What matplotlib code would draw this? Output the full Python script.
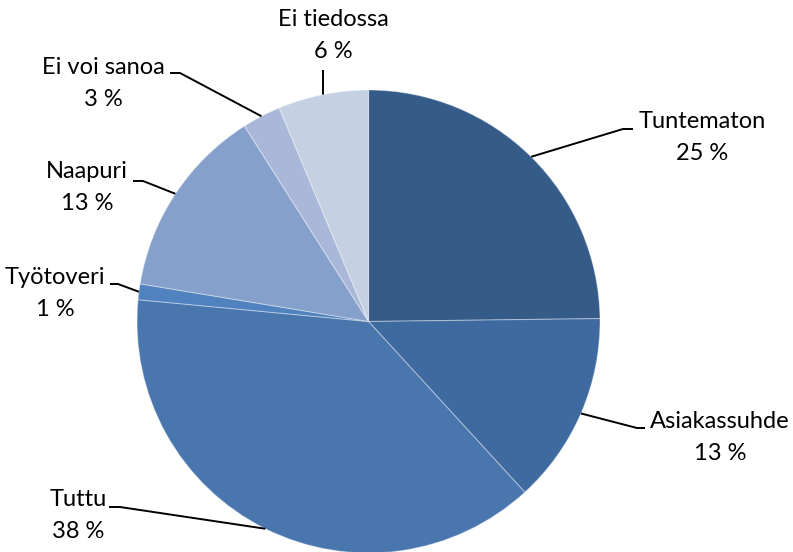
import numpy as np
import matplotlib
matplotlib.use("Agg")
import matplotlib.pyplot as plt

categories = ["Tuntematon", "Asiakassuhde", "Tuttu", "Työtoveri", "Naapuri", "Ei voi sanoa", "Ei tiedossa"]
values = [24.8, 13.4, 38.3, 1.1, 13.4, 2.7, 6.3]
colors = ["#355C89", "#3F6A9F", "#4A76AE", "#4F82BF", "#85A0CB", "#A9B8D8", "#C5D0E3"]

W, H = 793, 552
fig = plt.figure(figsize=(W / 100, H / 100), dpi=100)
ax = fig.add_axes([0, 0, 1, 1])

cx, cy, R = 368.5, H - 321.5, 231.5
wedges, _ = ax.pie(values, colors=colors, startangle=90, counterclock=False,
                   center=(cx, cy), radius=R, frame=True,
                   wedgeprops=dict(edgecolor=(1, 1, 1, 0.35), linewidth=0.8))
ax.set_xlim(0, W)
ax.set_ylim(0, H)
ax.set_aspect("equal")
ax.axis("off")

# label layout (image pixel coords): text center x, first line y, elbow point, elbow end (near text)
layout = {
    "Tuntematon":   dict(tx=702, ty=121, elbow=(623, 129), end=(633, 129)),
    "Asiakassuhde": dict(tx=720, ty=422, elbow=(637, 428), end=(645, 428)),
    "Tuttu":        dict(tx=78,  ty=500, elbow=(120, 507), end=(109, 507)),
    "Työtoveri":    dict(tx=55,  ty=278, elbow=(118, 284), end=(110, 284)),
    "Naapuri":      dict(tx=87,  ty=172, elbow=(143, 181), end=(133, 181)),
    "Ei voi sanoa": dict(tx=103, ty=68,  elbow=(180, 73),  end=(170, 73)),
    "Ei tiedossa":  dict(tx=333, ty=20,  elbow=(323, 70),  end=(323, 70)),
}

font = dict(family=["Lato", "DejaVu Sans"], fontsize=17, color="#000000")
for w, cat, v in zip(wedges, categories, values):
    L = layout[cat]
    mid = np.deg2rad((w.theta1 + w.theta2) / 2)
    px, py = cx + R * np.cos(mid), cy + R * np.sin(mid)
    ex, ey = L["elbow"]
    fx, fy = L["end"]
    ax.plot([px, ex, fx], [py, H - ey, H - fy], color="black", lw=1.4,
            solid_capstyle="butt")
    ax.text(L["tx"], H - L["ty"], cat, ha="center", va="center", **font)
    ax.text(L["tx"], H - L["ty"] - 32, f"{round(v)} %", ha="center", va="center", **font)

fig.savefig("out.png", dpi=100)
